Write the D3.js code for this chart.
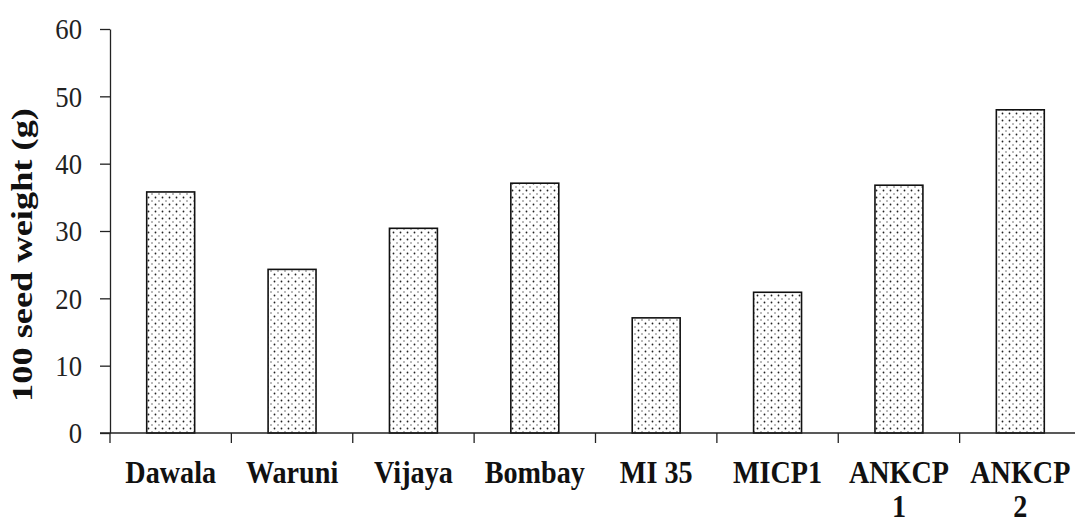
<!DOCTYPE html>
<html><head><meta charset="utf-8">
<script src="https://cdn.jsdelivr.net/npm/d3@7"></script>
<style>html,body{margin:0;padding:0;background:#fff;}svg{display:block;}</style>
</head><body>
<script>
const categories = ["Dawala", "Waruni", "Vijaya", "Bombay", "MI 35", "MICP1", "ANKCP\n1", "ANKCP\n2"];
const values = [35.8, 24.3, 30.4, 37.1, 17.1, 20.9, 36.8, 48.0];
const yTicks = [0, 10, 20, 30, 40, 50, 60];
const yTitle = "100 seed weight (g)";

const W = 1075, H = 517;
const svg = d3.select("body").append("svg").attr("width", W).attr("height", H);

const defs = svg.append("defs");
const pat = defs.append("pattern").attr("id", "dots").attr("patternUnits", "userSpaceOnUse")
  .attr("width", 7).attr("height", 7);
pat.append("rect").attr("width", 7).attr("height", 7).attr("fill", "#fff");
pat.append("circle").attr("cx", 1.5).attr("cy", 1.5).attr("r", 0.9).attr("fill", "#222");
pat.append("circle").attr("cx", 5).attr("cy", 5).attr("r", 0.7).attr("fill", "#444");

const x = d3.scaleBand().domain(categories).range([110, 1081]).padding(0);
const y = d3.scaleLinear().domain([0, 60]).range([433, 29]);

const font = "Liberation Serif, Times New Roman, Times, serif";

function condense(node, f) {
  const L = node.getComputedTextLength();
  d3.select(node).attr("textLength", L * f).attr("lengthAdjust", "spacingAndGlyphs");
}

// bars
const bw = x.bandwidth() * 0.395;
svg.append("g").selectAll("rect").data(values).join("rect")
  .attr("x", (d, i) => x(categories[i]) + x.bandwidth() / 2 - bw / 2)
  .attr("y", d => y(d))
  .attr("width", bw)
  .attr("height", d => y(0) - y(d))
  .attr("fill", "url(#dots)")
  .attr("stroke", "#111").attr("stroke-width", 1.6);

// y axis
const yAxis = svg.append("g").attr("transform", "translate(110,0)")
  .call(d3.axisLeft(y).tickValues(yTicks).tickSize(10).tickPadding(18).tickSizeOuter(0));
yAxis.select(".domain").attr("stroke", "#222").attr("stroke-width", 1.3);
yAxis.selectAll(".tick line").attr("stroke", "#222").attr("stroke-width", 1.3);
yAxis.selectAll(".tick text").attr("font-family", font).attr("font-size", 29).attr("fill", "#222")
  .attr("dy", "0.34em")
  .each(function() { condense(this, 0.92); });

// x axis
const xAxis = svg.append("g").attr("transform", "translate(0,433)")
  .call(d3.axisBottom(x).tickSize(0).tickFormat(""));
xAxis.select(".domain").attr("d", "M100,0H1075").attr("stroke", "#222").attr("stroke-width", 1.3);
const bounds = categories.map(c => x(c));
xAxis.selectAll(".bt").data(bounds).join("line").attr("class", "bt")
  .attr("x1", d => d).attr("x2", d => d).attr("y1", 0).attr("y2", 10)
  .attr("stroke", "#222").attr("stroke-width", 1.3);

// x labels
const lab = svg.append("g").selectAll("text").data(categories).join("text")
  .attr("x", d => x(d) + x.bandwidth() / 2)
  .attr("y", 483)
  .attr("text-anchor", "middle")
  .attr("font-family", font).attr("font-weight", "bold").attr("font-size", 32).attr("fill", "#111");
lab.each(function(d) {
  const parts = d.split("\n");
  const t = d3.select(this);
  parts.forEach((p, j) => {
    const ts = t.append("tspan").attr("x", t.attr("x")).attr("dy", j === 0 ? 0 : 34).text(p);
    condense(ts.node(), 0.88);
  });
});

// y title
svg.append("text")
  .attr("transform", "translate(32,255) rotate(-90)")
  .attr("text-anchor", "middle")
  .attr("font-family", font).attr("font-weight", "bold").attr("font-size", 29).attr("fill", "#111")
  .attr("textLength", 294).attr("lengthAdjust", "spacingAndGlyphs")
  .text(yTitle);
</script>
</body></html>
